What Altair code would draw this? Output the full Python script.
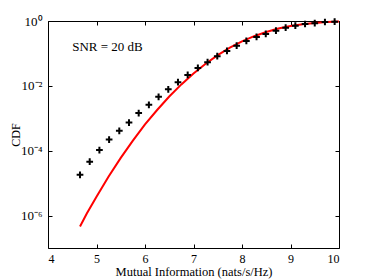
import altair as alt
import pandas as pd

# Markers (empirical CDF)
mk_x = [4.66, 4.86, 5.06, 5.26, 5.47, 5.67, 5.87, 6.08, 6.28, 6.48, 6.68, 6.88, 7.09,
        7.29, 7.49, 7.69, 7.89, 8.09, 8.30, 8.49, 8.70, 8.90, 9.10, 9.30, 9.50, 9.71, 9.91]
mk_y = [1.8e-5, 4.6e-5, 1.05e-4, 2.2e-4, 4.1e-4, 7.4e-4, 1.45e-3, 2.6e-3, 4.6e-3, 7.8e-3,
        0.013, 0.0218, 0.0358, 0.0536, 0.082, 0.119, 0.174, 0.243, 0.322, 0.398, 0.503,
        0.622, 0.716, 0.809, 0.855, 0.931, 0.95]

# Red curve (approximation)
ln_x = [4.66, 4.80, 5.00, 5.25, 5.50, 5.75, 6.00, 6.25, 6.50, 6.75, 7.00, 7.25, 7.50,
        7.75, 8.00, 8.25, 8.50, 8.75, 9.00, 9.25, 9.50, 9.75, 10.0]
ln_y = [4.6e-7, 1.15e-6, 3.8e-6, 1.6e-5, 6.0e-5, 2.05e-4, 6.5e-4, 1.8e-3, 4.7e-3, 0.0111,
        0.0241, 0.0482, 0.0885, 0.150, 0.234, 0.340, 0.460, 0.584, 0.700, 0.799, 0.875,
        0.928, 0.962]

x_ticks = [4, 5, 6, 7, 8, 9, 10]
y_ticks = [1e-6, 1e-4, 1e-2, 1]

ann_x = [4.5]
ann_y = [0.16]
ann_text = ["SNR = 20 dB"]

mk = pd.DataFrame({"x": mk_x, "y": mk_y})
ln = pd.DataFrame({"x": ln_x, "y": ln_y})
ann = pd.DataFrame({"x": ann_x, "y": ann_y, "t": ann_text})

FONT = "Liberation Serif"
xs = alt.Scale(domain=[4, 10], nice=False)
ys = alt.Scale(type="log", domain=[1e-7, 1], nice=False)

label_expr = ("datum.value >= 0.5 ? '10⁰' : datum.value >= 0.005 ? '10⁻²' : "
              "datum.value >= 0.00005 ? '10⁻⁴' : '10⁻⁶'")

line = alt.Chart(ln).mark_line(color="#ff0000", strokeWidth=2).encode(
    x=alt.X("x:Q", scale=xs, axis=alt.Axis(
        orient="bottom", values=x_ticks, offset=-4, tickSize=4, domain=False,
        grid=False, labelPadding=5, title="Mutual Information (nats/s/Hz)",
        titleX=145.5, titleY=21, titleAlign="center", titleBaseline="top",
        titleFontSize=12.5, format="d")),
    y=alt.Y("y:Q", scale=ys, axis=alt.Axis(
        orient="left", values=y_ticks, offset=-4, tickSize=4, domain=False,
        grid=False, labelPadding=6, labelExpr=label_expr, title="CDF",
        titleX=-37, titleY=113.5, titleAngle=270, titleAlign="center",
        titleBaseline="middle", labelFontSize=13)),
)

pts = alt.Chart(mk).mark_point(
    shape="M-1,0L1,0M0,-1L0,1", filled=False, color="black", opacity=1,
    strokeWidth=2, size=45
).encode(
    x=alt.X("x:Q", scale=xs, axis=alt.Axis(
        orient="top", values=x_ticks, offset=-4, tickSize=4, domain=False,
        grid=False, labels=False, title=None)),
    y=alt.Y("y:Q", scale=ys, axis=alt.Axis(
        orient="right", values=y_ticks, offset=-4, tickSize=4, domain=False,
        grid=False, labels=False, title=None)),
)

txt = alt.Chart(ann).mark_text(
    align="left", baseline="middle", font=FONT, fontSize=13, color="black"
).encode(
    x=alt.X("x:Q", scale=xs, axis=None),
    y=alt.Y("y:Q", scale=ys, axis=None),
    text="t:N",
)

chart = alt.layer(line, pts, txt).resolve_axis(
    x="independent", y="independent"
).properties(
    width=291, height=227,
    autosize=alt.AutoSizeParams(type="none"),
    padding={"left": 40, "top": 13, "right": 20, "bottom": 31},
).configure_view(
    stroke="black", strokeWidth=1
).configure_axis(
    labelFont=FONT, titleFont=FONT, labelFontSize=12, titleFontSize=12,
    titleFontWeight="normal", labelColor="black", titleColor="black",
    tickColor="black", tickWidth=1
)

chart.save("out.html", embed_options={"renderer": "svg", "actions": False})
